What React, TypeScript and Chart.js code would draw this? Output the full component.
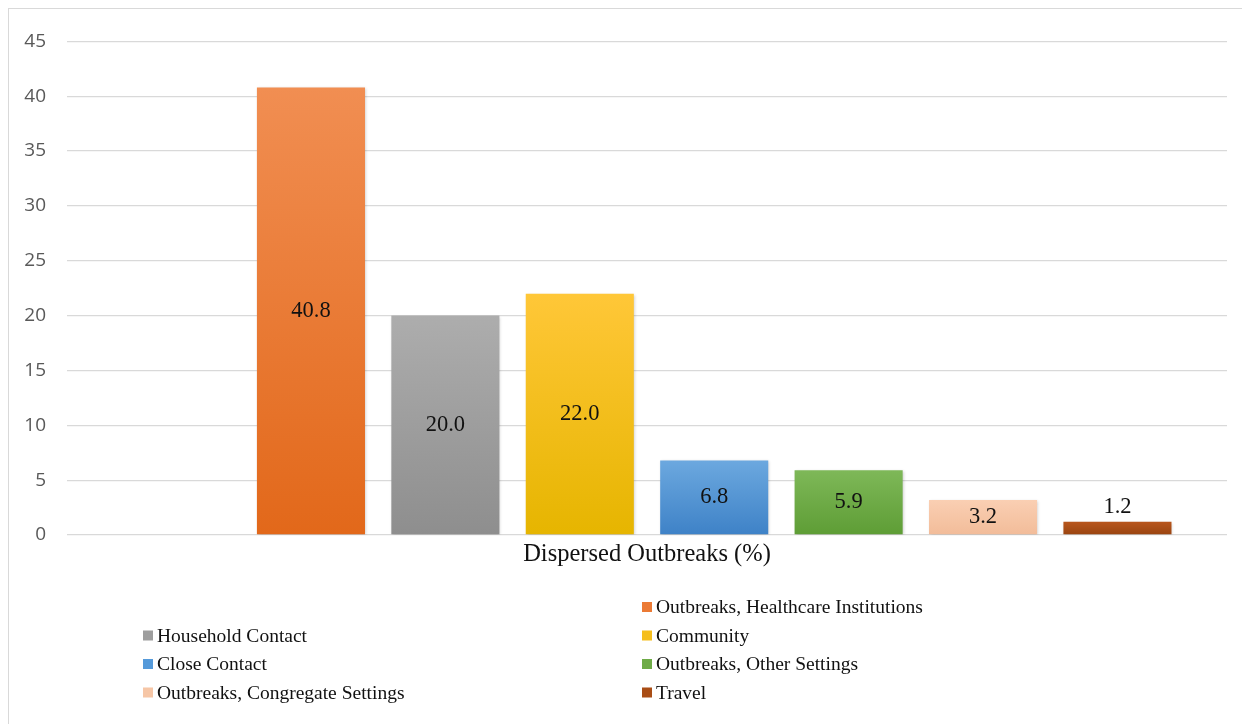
import React, { useEffect, useRef } from "react";
import { Chart, registerables } from "chart.js";

Chart.register(...registerables);

// Single category, one bar per transmission source
const categories = ["Dispersed Outbreaks (%)"];
const seriesNames = [
  "",
  "Outbreaks, Healthcare Institutions",
  "Household Contact",
  "Community",
  "Close Contact",
  "Outbreaks, Other Settings",
  "Outbreaks, Congregate Settings",
  "Travel",
];
const seriesValues: (number | null)[] = [null, 40.8, 20.0, 22.0, 6.8, 5.9, 3.2, 1.2];

// Gradient stops (top of bar -> base of bar)
const topColors = ["#ffffff", "#F18E52", "#ADADAD", "#FFC738", "#6CA8DF", "#7EB858", "#FACFB3", "#B8561C"];
const bottomColors = ["#ffffff", "#E2681A", "#8E8E8E", "#E6B500", "#3E82C7", "#5E9D35", "#F2BC99", "#994410"];
const legendColors = ["#ffffff", "#EB7A35", "#9E9E9E", "#F5BE1C", "#559ADA", "#6EAB47", "#F6C6A6", "#A94D15"];

const yMax = 45;
const yStep = 5;

const SERIF = "'Liberation Serif', 'Times New Roman', serif";
const SANS = "'Open Sans', 'Liberation Sans', sans-serif";

const barShadow = {
  id: "barShadow",
  beforeDatasetsDraw(chart: any) {
    const c = chart.ctx;
    c.save();
    c.shadowColor = "rgba(0,0,0,0.22)";
    c.shadowBlur = 3;
    c.shadowOffsetX = 1;
    c.shadowOffsetY = 1;
  },
  afterDatasetsDraw(chart: any) {
    chart.ctx.restore();
  },
};

const valueLabels = {
  id: "valueLabels",
  afterDatasetsDraw(chart: any) {
    const c = chart.ctx;
    c.save();
    c.font = `22.5px ${SERIF}`;
    c.fillStyle = "#111111";
    c.textAlign = "center";
    c.textBaseline = "middle";
    chart.data.datasets.forEach((ds: any, i: number) => {
      const meta = chart.getDatasetMeta(i);
      meta.data.forEach((bar: any, j: number) => {
        const v = ds.data[j];
        if (v === null || v === undefined) return;
        const h = bar.base - bar.y;
        const y = h < 22 ? bar.y - 15 : (bar.y + bar.base) / 2;
        c.fillText(v.toFixed(1), bar.x, y);
      });
    });
    c.restore();
  },
};

const gridLegend = {
  id: "gridLegend",
  afterDraw(chart: any) {
    const c = chart.ctx;
    const colX = [134, 633];
    const rowY0 = 598;
    const rowGap = 28.5;
    c.save();
    c.font = `19.5px ${SERIF}`;
    c.textBaseline = "middle";
    c.textAlign = "left";
    seriesNames.forEach((name, i) => {
      if (!name) return;
      const x = colX[i % 2];
      const y = rowY0 + Math.floor(i / 2) * rowGap;
      c.fillStyle = legendColors[i];
      c.fillRect(x, y - 5, 10, 10);
      c.fillStyle = "#111111";
      c.fillText(name, x + 14, y + 1);
    });
    c.restore();
  },
};

export default function App() {
  const canvasRef = useRef<HTMLCanvasElement | null>(null);

  useEffect(() => {
    if (!canvasRef.current) return;
    const chart = new Chart(canvasRef.current, {
      type: "bar",
      data: {
        labels: categories,
        datasets: seriesNames.map((name, i) => ({
          label: name,
          data: [seriesValues[i]],
          backgroundColor: (ctx: any) => {
            const ch = ctx.chart;
            if (!ch.chartArea || ctx.raw === null || ctx.raw === undefined) return legendColors[i];
            const ys = ch.scales.y;
            const top = ys.getPixelForValue(ctx.raw);
            const base = ys.getPixelForValue(0);
            const g = ch.ctx.createLinearGradient(0, top, 0, base);
            g.addColorStop(0, topColors[i]);
            g.addColorStop(1, bottomColors[i]);
            return g;
          },
          borderWidth: 0,
          categoryPercentage: 0.927,
          barPercentage: 0.804,
        })),
      },
      options: {
        animation: false,
        responsive: true,
        maintainAspectRatio: false,
        layout: { padding: { top: 26, right: 23, bottom: 149, left: 0 } },
        plugins: {
          legend: { display: false },
          tooltip: { enabled: false },
          title: { display: false },
        },
        scales: {
          x: {
            grid: { display: false, drawTicks: false },
            border: { display: false },
            ticks: {
              padding: 5,
              color: "#111111",
              font: { family: SERIF, size: 24.5 },
            },
            afterFit: (axis: any) => {
              axis.height = 40;
            },
          },
          y: {
            min: 0,
            max: yMax,
            ticks: {
              stepSize: yStep,
              padding: 21,
              color: "#595959",
              font: { family: SANS, size: 19 },
            },
            grid: { color: "#D9D9D9", lineWidth: 1.3, drawTicks: false },
            border: { display: false },
            afterFit: (axis: any) => {
              axis.width = 58;
            },
          },
        },
      },
      plugins: [barShadow, valueLabels, gridLegend],
    });
    return () => chart.destroy();
  }, []);

  return (
    <div
      style={{
        position: "relative",
        width: 1241,
        height: 715,
        borderTop: "1px solid #D9D9D9",
        borderLeft: "1px solid #D9D9D9",
        background: "#ffffff",
      }}
    >
      <canvas ref={canvasRef} />
    </div>
  );
}
